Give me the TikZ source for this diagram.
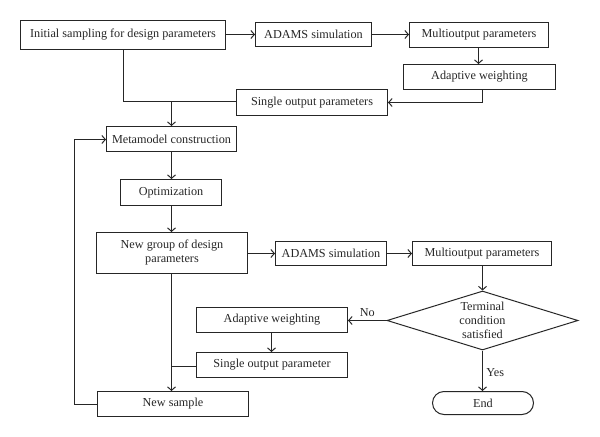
\documentclass[tikz,border=0pt]{standalone}
\usepackage{fontspec}
\setmainfont{Liberation Serif}
\usetikzlibrary{arrows.meta,shapes.geometric,shapes.misc}
\definecolor{ln}{HTML}{262626}
\begin{document}
\begin{tikzpicture}[x=1bp,y=-1bp,
  every node/.style={font=\fontsize{12.2bp}{14bp}\selectfont, text=ln},
  box/.style={draw=ln, line width=1bp, rectangle, inner sep=0pt, align=center},
  dia/.style={draw=ln, line width=1bp, diamond, aspect=3.2, inner sep=0pt, align=center},
  term/.style={draw=ln, line width=1bp, rounded rectangle, inner sep=0pt},
  conn/.style={draw=ln, line width=1bp},
  arr/.style={conn, -{Straight Barb[length=3.5bp,width=8bp]}}]
\useasboundingbox (0,0) rectangle (600,437);
\node[box, minimum width=205bp, minimum height=29bp] (init) at (123,35) {Initial sampling for design parameters};
\node[box, minimum width=116bp, minimum height=24bp] (adams1) at (313.5,34.5) {ADAMS simulation};
\node[box, minimum width=139bp, minimum height=25bp] (multi1) at (479,35) {Multioutput parameters};
\node[box, minimum width=152bp, minimum height=25bp] (adapt1) at (479.5,77) {Adaptive weighting};
\node[box, minimum width=151bp, minimum height=26bp] (single1) at (312,102.5) {Single output parameters};
\node[box, minimum width=130bp, minimum height=25bp] (meta) at (171.5,139) {Metamodel construction};
\node[box, minimum width=101bp, minimum height=26bp] (opt) at (171,192.5) {Optimization};
\node[box, minimum width=151bp, minimum height=41bp] (newgroup) at (172,253) {New group of design\\parameters};
\node[box, minimum width=111bp, minimum height=24bp] (adams2) at (331,253.5) {ADAMS simulation};
\node[box, minimum width=139bp, minimum height=24bp] (multi2) at (482,253.5) {Multioutput parameters};
\node[dia, minimum width=191bp, minimum height=59bp] (cond) at (482.5,320.5) {Terminal\\condition\\satisfied};
\node[box, minimum width=151bp, minimum height=25bp] (adapt2) at (272,320) {Adaptive weighting};
\node[box, minimum width=151bp, minimum height=25bp] (single2) at (272,365) {Single output parameter};
\node[box, minimum width=151bp, minimum height=25bp] (newsample) at (173,404) {New sample};
\node[term, minimum width=101bp, minimum height=23bp] (end) at (483,403) {End};
\coordinate (r1) at (0,34.5);
\coordinate (j1) at (123.5,101.5);
\coordinate (j2) at (171.5,101.5);
\coordinate (j3) at (171.5,366.5);
\coordinate (a1) at (478.5,0);
\coordinate (a2) at (482.5,102.5);
\coordinate (a3) at (271.5,0);
\coordinate (lb) at (74.5,404.5);
\coordinate (lt) at (74.5,139.5);

\draw[arr] (init.east |- r1) -- (adams1.west);
\draw[arr] (adams1.east) -- (multi1.west |- adams1.east);
\draw[arr] (multi1.south -| a1) -- (adapt1.north -| a1);
\draw[arr] (adapt1.south -| a2) -- (a2) -- (single1.east);
\draw[conn] (init.south -| j1) -- (j1) -- (single1.west |- j1);
\draw[arr] (j2) -- (meta.north -| j2);
\draw[arr] (meta.south -| j2) -- (opt.north -| j2);
\draw[arr] (opt.south -| j2) -- (newgroup.north -| j2);
\draw[arr] (newgroup.east |- adams2.west) -- (adams2.west);
\draw[arr] (adams2.east) -- (multi2.west);
\draw[arr] (multi2.south -| cond.north) -- (cond.north);
\draw[arr] (cond.west) -- node[above, pos=0.5] {No} (adapt2.east |- cond.west);
\draw[arr] (cond.south) -- node[right, pos=0.55] {Yes} (end.north -| cond.south);
\draw[arr] (adapt2.south -| a3) -- (single2.north -| a3);
\draw[arr] (newgroup.south -| j2) -- (newsample.north -| j2);
\draw[conn] (single2.west |- j3) -- (j3);
\draw[arr] (newsample.west |- lb) -- (lb) -- (lt) -- (meta.west |- lt);
\end{tikzpicture}
\end{document}
